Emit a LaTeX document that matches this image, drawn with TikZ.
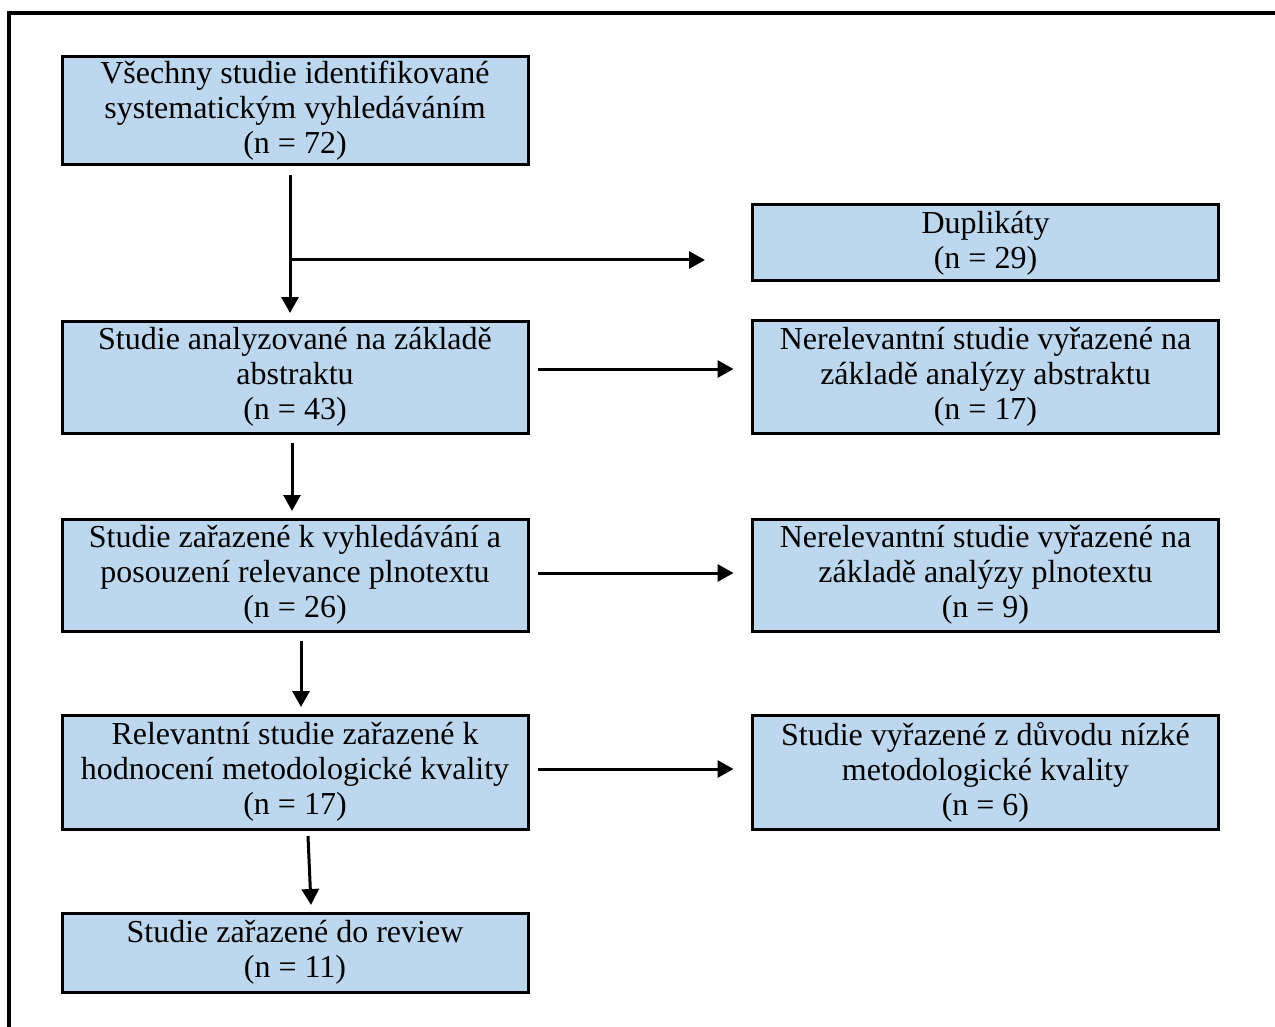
\documentclass[tikz,border=0pt]{standalone}
\usepackage{fontspec}
\setmainfont{Liberation Serif}
\usetikzlibrary{arrows.meta,calc}
\definecolor{boxfill}{HTML}{BDD7EE}
\tikzset{
  box/.style={draw=black, line width=3pt, fill=boxfill, minimum width=466pt, inner sep=0pt, outer sep=0pt, align=center, font=\fontsize{32}{35}\selectfont},
  arr/.style={line width=3pt, -{Triangle[length=16pt,width=17pt]}},
}
\begin{document}
\begin{tikzpicture}[x=1pt,y=-1pt]
\useasboundingbox (0,0) rectangle (1275,1027);
\draw[line width=3.2pt] (9,1027) -- (9,13) -- (1275,13);
% left column
\node[box, minimum height=108pt] (b1) at (295,111) {Všechny studie identifikované\\systematickým vyhledáváním\\(n = 72)};
\node[box, minimum height=112pt] (b2) at (295,377) {Studie analyzované na základě\\abstraktu\\(n = 43)};
\node[box, minimum height=112pt] (b3) at (295,575) {Studie zařazené k vyhledávání a\\posouzení relevance plnotextu\\(n = 26)};
\node[box, minimum height=114pt] (b4) at (295,772) {Relevantní studie zařazené k\\hodnocení metodologické kvality\\(n = 17)};
\node[box, minimum height=79pt] (b5) at (295,952.5) {Studie zařazené do review\\(n = 11)};
% right column
\node[box, minimum height=76pt] (r1) at (985.5,243) {Duplikáty\\(n = 29)};
\node[box, minimum height=113pt] (r2) at (985.5,377) {Nerelevantní studie vyřazené na\\základě analýzy abstraktu\\(n = 17)};
\node[box, minimum height=112pt] (r3) at (985.5,575) {Nerelevantní studie vyřazené na\\základě analýzy plnotextu\\(n = 9)};
\node[box, minimum height=114pt] (r4) at (985.5,772) {Studie vyřazené z důvodu nízké\\metodologické kvality\\(n = 6)};
% connectors
\coordinate (s1) at ([xshift=-5pt,yshift=-10pt]b1.south);
\coordinate (j1) at ($(s1)+(0,85)$);
\coordinate (d1) at ($(j1)+(415,0)$);
\draw[arr] (s1) -- ([xshift=-5pt,yshift=8pt]b2.north);
\draw[arr] (j1) -- (d1);
\draw[arr] ([xshift=-3pt,yshift=-10pt]b2.south) -- ([xshift=-3pt,yshift=8pt]b3.north);
\draw[arr] ([xshift=6pt,yshift=-10pt]b3.south) -- ([xshift=6pt,yshift=8pt]b4.north);
\draw[arr] ([xshift=13pt,yshift=-7pt]b4.south) -- ([xshift=16pt,yshift=8pt]b5.north);
\draw[arr] ([xshift=10pt,yshift=8pt]b2.east) -- ([xshift=-19pt,yshift=8pt]r2.west);
\draw[arr] ([xshift=10pt,yshift=2pt]b3.east) -- ([xshift=-19pt,yshift=2pt]r3.west);
\draw[arr] ([xshift=10pt,yshift=3pt]b4.east) -- ([xshift=-19pt,yshift=3pt]r4.west);
\end{tikzpicture}
\end{document}
